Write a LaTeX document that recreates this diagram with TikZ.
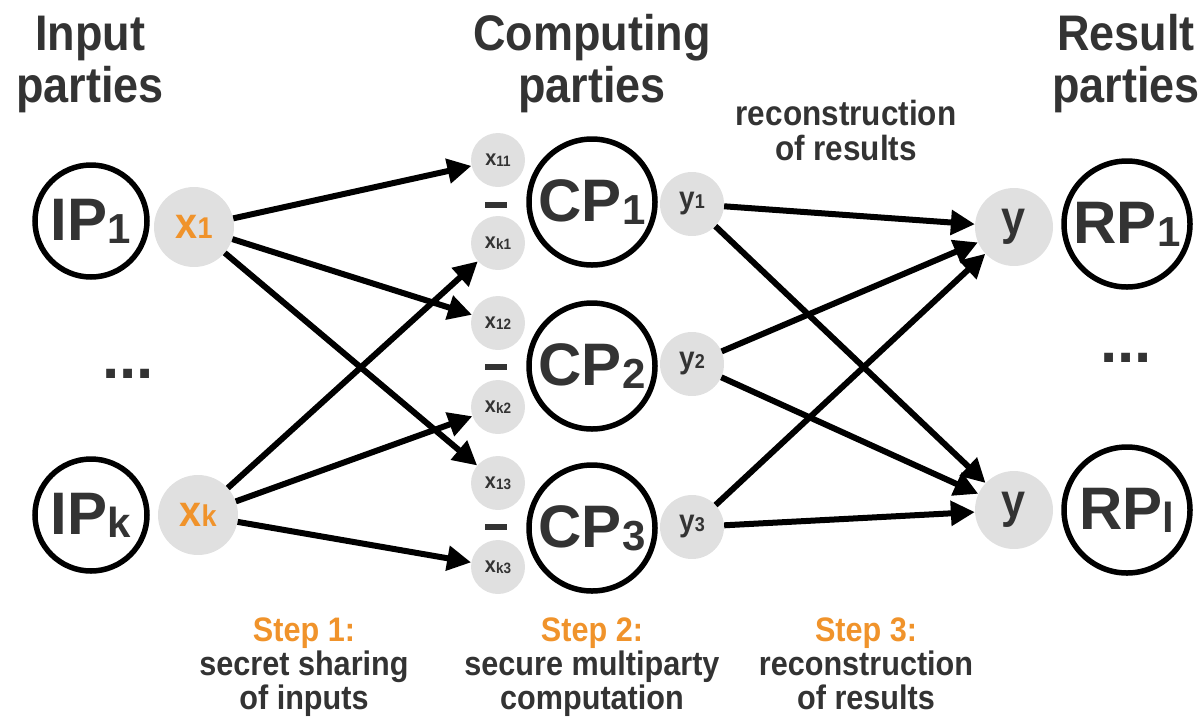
\documentclass[tikz,border=0pt]{standalone}
\usepackage{graphicx}
\usepackage{fontspec}
\setmainfont{Liberation Sans}
\usetikzlibrary{arrows.meta}
\definecolor{txt}{RGB}{51,51,51}
\definecolor{org}{RGB}{240,147,43}
\definecolor{shr}{RGB}{224,224,224}
\newcommand\hs[1]{\scalebox{0.9}[1]{#1}}
\newcommand\fs[1]{\fontsize{#1}{#1}\selectfont}
\newcommand\subsc[3]{\raisebox{#3}{\fs{#1}#2}}
\begin{document}
\begin{tikzpicture}[x=1pt,y=-1pt,
  lbl/.style={text=txt,inner sep=0pt,anchor=base},
  ttl/.style={lbl,font=\bfseries\fs{50}},
  midlbl/.style={lbl,font=\bfseries\fs{35}},
  stepttl/.style={lbl,text=org,font=\bfseries\fs{34}},
  desc/.style={lbl,font=\bfseries\fs{34}},
  party/.style={circle,draw=black,line width=5.5pt,text=txt,font=\bfseries\fs{60},inner sep=0pt},
  grey/.style={circle,fill=shr,inner sep=0pt},
  gx/.style={grey,minimum size=80pt,text=org,font=\bfseries\fs{44}},
  share/.style={grey,minimum size=54pt,text=txt,font=\bfseries\fs{22}},
  gy/.style={grey,minimum size=64pt,text=txt,font=\bfseries\fs{31}},
  gyy/.style={grey,minimum size=78pt,text=txt,font=\bfseries\fs{48}},
  sepbar/.style={fill=txt,minimum width=22pt,minimum height=6pt,inner sep=0pt},
  arr/.style={line width=6pt,-{Triangle[length=24pt,width=24pt]}},
  dots/.style={lbl,font=\bfseries\fs{62}}
]
\useasboundingbox (0,0) rectangle (1202,716);

% titles
\node[ttl] (tin1) at (90,50) {\hs{Input}};
\node[ttl] (tin2) at (90,102) {\hs{parties}};
\node[ttl] (tcp1) at (592,50) {\hs{Computing}};
\node[ttl] (tcp2) at (592,102) {\hs{parties}};
\node[ttl] (trp1) at (1126,50) {\hs{Result}};
\node[ttl] (trp2) at (1126,102) {\hs{parties}};
\node[midlbl] (rec1) at (846,125) {\hs{reconstruction}};
\node[midlbl] (rec2) at (846,160) {\hs{of results}};

% bottom captions
\node[stepttl] (st1) at (304,641) {\hs{Step 1:}};
\node[desc] (st1a) at (304,675) {\hs{secret sharing}};
\node[desc] (st1b) at (304,709) {\hs{of inputs}};
\node[stepttl] (st2) at (592,641) {\hs{Step 2:}};
\node[desc] (st2a) at (592,675) {\hs{secure multiparty}};
\node[desc] (st2b) at (592,709) {\hs{computation}};
\node[stepttl] (st3) at (866,641) {\hs{Step 3:}};
\node[desc] (st3a) at (866,675) {\hs{reconstruction}};
\node[desc] (st3b) at (866,709) {\hs{of results}};

% parties
\node[party,minimum size=112pt] (ip1) at (91,221) {IP\subsc{42}{1}{-3pt}};
\node[party,minimum size=112pt] (ipk) at (91,515) {IP\subsc{42}{k}{-3pt}};
\node[party,minimum size=126pt] (cp1) at (592,202) {CP\subsc{42}{1}{-3pt}};
\node[party,minimum size=126pt] (cp2) at (592,366) {CP\subsc{42}{2}{-3pt}};
\node[party,minimum size=126pt] (cp3) at (592,528) {CP\subsc{42}{3}{-3pt}};
\node[party,minimum size=126pt] (rp1) at (1127,224) {RP\subsc{42}{1}{-3pt}};
\node[party,minimum size=126pt] (rpl) at (1127,510) {RP\subsc{42}{l}{-3pt}};

\node[dots] (dl) at (128,378) {...};
\node[dots] (dr) at (1126,362) {...};

% inputs
\node[gx] (x1) at (194,227) {\hs{x\subsc{30}{1}{0pt}}};
\node[gx] (xk) at (198,515) {\hs{x\subsc{30}{k}{0pt}}};

% shares
\node[share] (s11) at (498,160) {\hs{x\subsc{15}{11}{-1pt}}};
\node[share] (sk1) at (498,243) {\hs{x\subsc{15}{k1}{-1pt}}};
\node[share] (s12) at (498,323) {\hs{x\subsc{15}{12}{-1pt}}};
\node[share] (sk2) at (498,407) {\hs{x\subsc{15}{k2}{-1pt}}};
\node[share] (s13) at (498,483) {\hs{x\subsc{15}{13}{-1pt}}};
\node[share] (sk3) at (498,567) {\hs{x\subsc{15}{k3}{-1pt}}};
\node[sepbar] (d1) at (496,205) {};
\node[sepbar] (d2) at (496,367) {};
\node[sepbar] (d3) at (496,527) {};

% partial results
\node[gy] (y1) at (692,204) {\hs{y\subsc{20}{1}{0pt}}};
\node[gy] (y2) at (692,364) {\hs{y\subsc{20}{2}{0pt}}};
\node[gy] (y3) at (692,527) {\hs{y\subsc{20}{3}{0pt}}};
\node[gyy] (ya) at (1014,227) {\hs{y}};
\node[gyy] (yb) at (1014,510) {\hs{y}};

% arrows
\draw[arr] (x1) -- (s11);
\draw[arr] (x1) -- (s12);
\draw[arr] (x1) -- (s13);
\draw[arr] (xk) -- (sk1);
\draw[arr] (xk) -- (sk2);
\draw[arr] (xk) -- (sk3);
\draw[arr] (y1) -- (ya);
\draw[arr] (y1) -- (yb);
\draw[arr] (y2) -- (ya);
\draw[arr] (y2) -- (yb);
\draw[arr] (y3) -- (ya);
\draw[arr] (y3) -- (yb);
\end{tikzpicture}
\end{document}
